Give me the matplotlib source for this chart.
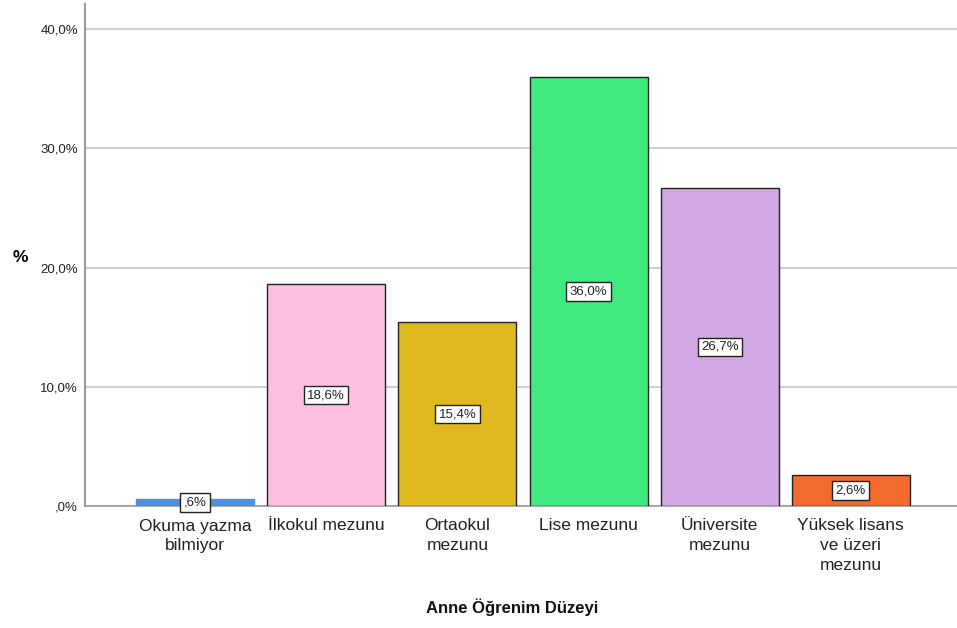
import matplotlib
matplotlib.use("Agg")
import matplotlib.pyplot as plt

categories = ["Okuma yazma\nbilmiyor", "İlkokul mezunu", "Ortaokul\nmezunu",
              "Lise mezunu", "Üniversite\nmezunu", "Yüksek lisans\nve üzeri\nmezunu"]
values = [0.6, 18.6, 15.4, 36.0, 26.7, 2.6]
value_labels = [",6%", "18,6%", "15,4%", "36,0%", "26,7%", "2,6%"]
colors = ["#4f8fe0", "#fdc0e0", "#e0b820", "#40e880", "#d2a8e4", "#f26a2c"]
yticks = [0, 10, 20, 30, 40]
ytick_labels = [",0%", "10,0%", "20,0%", "30,0%", "40,0%"]

plt.rcParams['font.family'] = ['Liberation Sans', 'DejaVu Sans']

fig = plt.figure(figsize=(9.57, 6.28), dpi=100)
ax = fig.add_axes([85/957, 1-506/628, (957-85)/957, (506-4)/628])

x = list(range(len(values)))
for i, (v, c) in enumerate(zip(values, colors)):
    ec = c if i == 0 else "#222222"
    ax.bar(i, v, width=0.9, color=c, edgecolor=ec, linewidth=1.0, zorder=3)
    ax.text(i, v/2, value_labels[i], ha="center", va="center", fontsize=9.5,
            zorder=5, color="#222222",
            bbox=dict(boxstyle="square,pad=0.25", facecolor="white",
                      edgecolor="#222222", linewidth=1.0))

ax.set_xlim(-0.84, 5.81)
ax.set_ylim(0, 42.1)
ax.set_yticks(yticks)
ax.set_yticklabels(ytick_labels, fontsize=9.5, color="#222222")
ax.set_xticks(x)
ax.set_xticklabels(categories, fontsize=12.5, linespacing=1.4, color="#222222")
ax.tick_params(axis="x", length=0, pad=9)
ax.tick_params(axis="y", length=0, pad=5)
ax.yaxis.grid(True, color="#d0d0d0", linewidth=1.5, zorder=0)
ax.set_axisbelow(True)
for s in ["top", "right"]:
    ax.spines[s].set_visible(False)
ax.spines["left"].set_color("#999999")
ax.spines["bottom"].set_color("#999999")
ax.spines["left"].set_linewidth(1.5)
ax.spines["bottom"].set_linewidth(1.2)

fig.text(20/957, 1-258/628, "%", fontsize=12.5, fontweight="bold", ha="center", va="center")
fig.text(512/957, 1-607/628, "Anne Öğrenim Düzeyi", fontsize=12, fontweight="bold",
         ha="center", va="center", color="#111111")

fig.savefig("out.png", dpi=100)
